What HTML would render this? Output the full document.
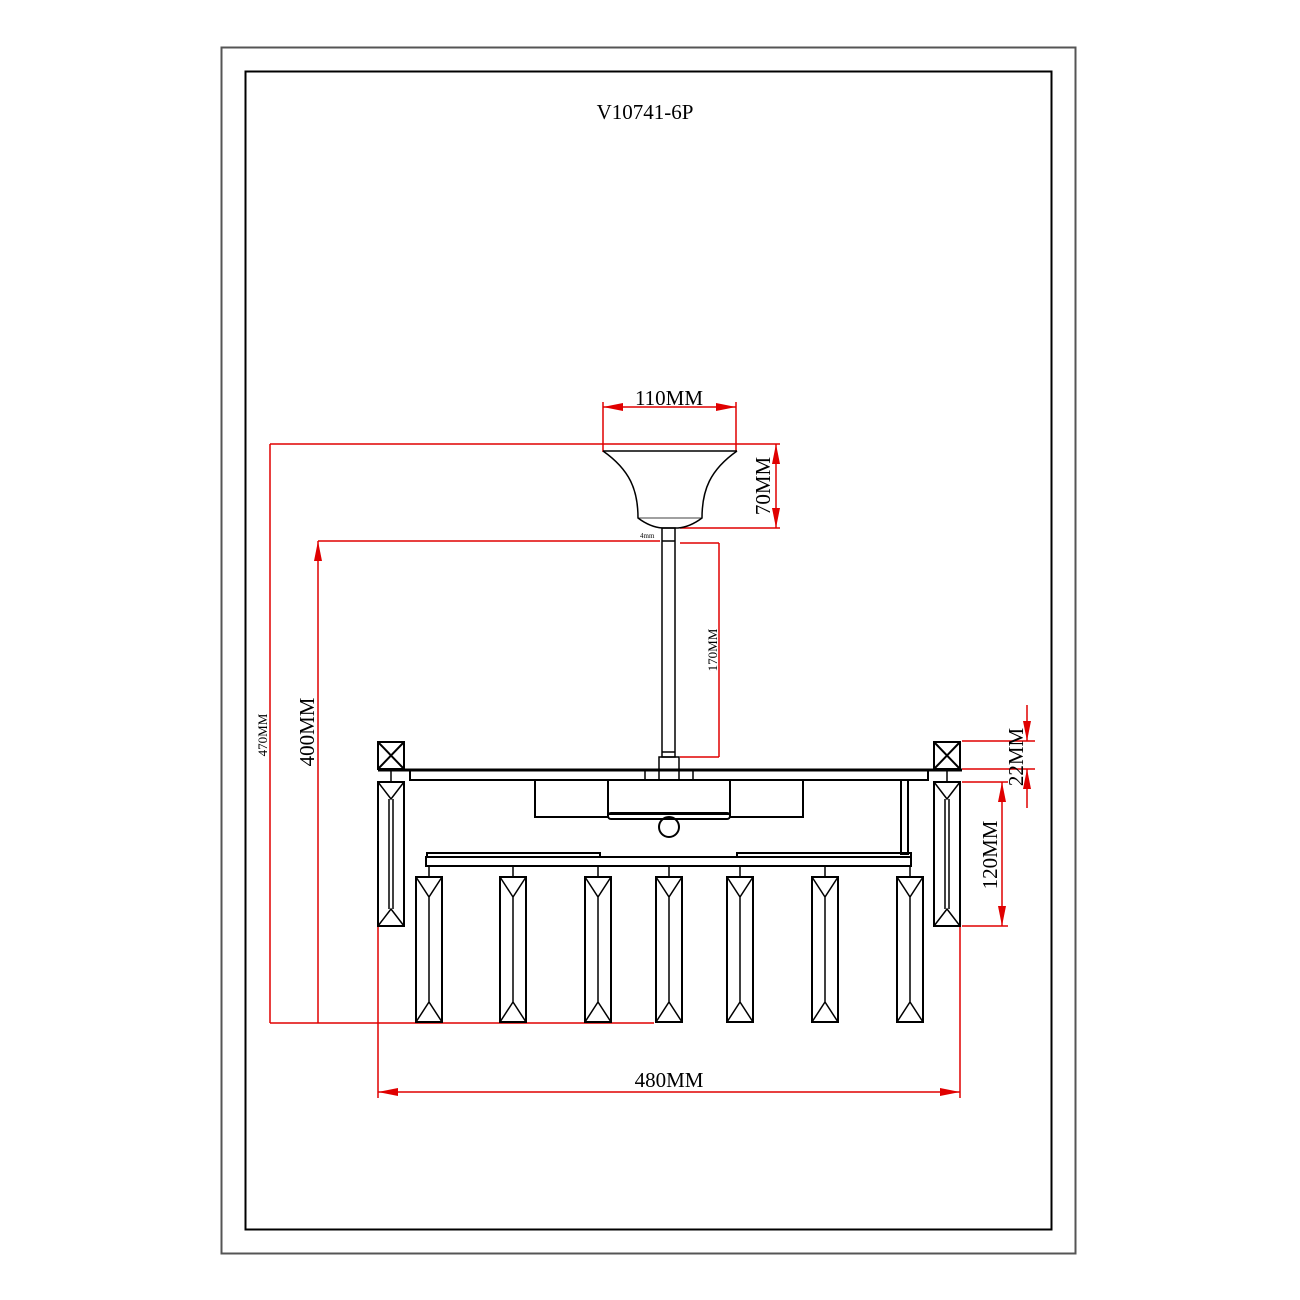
<!DOCTYPE html>
<html><head><meta charset="utf-8"><style>html,body{margin:0;padding:0;background:#fff}svg{display:block}text{font-family:"Liberation Serif",serif}</style></head>
<body>
<svg width="1300" height="1300" viewBox="0 0 1300 1300" xmlns="http://www.w3.org/2000/svg">
<defs>
<marker id="a" viewBox="0 0 20 8" refX="20" refY="4" markerWidth="20" markerHeight="8" markerUnits="userSpaceOnUse" orient="auto"><path d="M0,0 L20,4 L0,8 Z" fill="#e00000"/></marker>
<g id="cr">
<rect x="0" y="0" width="26" height="145" fill="none" stroke="#000" stroke-width="2"/>
<path d="M0,0 L13,20 L26,0 M13,20 L13,125 M0,145 L13,125 L26,145" fill="none" stroke="#000" stroke-width="1.5"/>
</g>
</defs>
<rect x="221.5" y="47.5" width="854" height="1206" fill="none" stroke="#555" stroke-width="2"/>
<rect x="245.5" y="71.5" width="806" height="1158" fill="none" stroke="#000" stroke-width="2"/>
<text x="645" y="119" font-size="21" text-anchor="middle">V10741-6P</text>

<!-- red dims -->
<g stroke="#e00000" stroke-width="1.5" fill="none">
<line x1="603" y1="402" x2="603" y2="452"/><line x1="736" y1="402" x2="736" y2="452"/>
<line x1="625" y1="407" x2="603" y2="407" marker-end="url(#a)"/><line x1="700" y1="407" x2="736" y2="407" marker-end="url(#a)"/><line x1="625" y1="407" x2="700" y2="407"/>
<line x1="270" y1="444" x2="780" y2="444"/><line x1="680" y1="528" x2="780" y2="528"/>
<line x1="776" y1="486" x2="776" y2="444" marker-end="url(#a)"/><line x1="776" y1="486" x2="776" y2="528" marker-end="url(#a)"/>
<line x1="270" y1="444" x2="270" y2="1023"/><line x1="270" y1="1023" x2="654" y2="1023"/>
<line x1="318" y1="541" x2="660" y2="541"/>
<line x1="318" y1="1023" x2="318" y2="541" marker-end="url(#a)"/>
<line x1="680" y1="543" x2="719" y2="543"/><line x1="680" y1="757" x2="719" y2="757"/><line x1="719" y1="543" x2="719" y2="757"/>
<line x1="962" y1="741" x2="1035" y2="741"/><line x1="962" y1="769" x2="1035" y2="769"/>
<line x1="1027" y1="705" x2="1027" y2="741" marker-end="url(#a)"/><line x1="1027" y1="808" x2="1027" y2="769" marker-end="url(#a)"/>
<line x1="962" y1="782" x2="1008" y2="782"/><line x1="962" y1="926" x2="1008" y2="926"/>
<line x1="1002" y1="854" x2="1002" y2="782" marker-end="url(#a)"/><line x1="1002" y1="854" x2="1002" y2="926" marker-end="url(#a)"/>
<line x1="378" y1="782" x2="378" y2="1098"/><line x1="960" y1="782" x2="960" y2="1098"/>
<line x1="669" y1="1092" x2="378" y2="1092" marker-end="url(#a)"/><line x1="669" y1="1092" x2="960" y2="1092" marker-end="url(#a)"/>
</g>
<g font-size="21" fill="#000">
<text x="669" y="405" text-anchor="middle">110MM</text>
<text x="669" y="1087" text-anchor="middle">480MM</text>
<text transform="translate(770,486) rotate(-90)" text-anchor="middle">70MM</text>
<text transform="translate(314,732) rotate(-90)" text-anchor="middle">400MM</text>
<text transform="translate(1023,757) rotate(-90)" text-anchor="middle">22MM</text>
<text transform="translate(997,855) rotate(-90)" text-anchor="middle">120MM</text>
<text transform="translate(267,735) rotate(-90)" text-anchor="middle" font-size="13">470MM</text>
<text transform="translate(717,650) rotate(-90)" text-anchor="middle" font-size="13">170MM</text>
<text x="640" y="538" font-size="7">4mm</text>
</g>

<!-- canopy -->
<g stroke="#000" stroke-width="1.5" fill="none">
<line x1="603" y1="451" x2="737" y2="451"/>
<path d="M603,451 C630,470 638,490 638,518 Q650,527 662,528 L678,528 Q690,527 702,518 C702,490 710,470 737,451"/>
<line x1="638" y1="518" x2="702" y2="518" stroke-width="0.8"/>
<rect x="662" y="528" width="13" height="229"/>
<line x1="662" y1="541" x2="675" y2="541"/>
<line x1="662" y1="752" x2="675" y2="752"/>
<rect x="659" y="757" width="20" height="23"/>
<line x1="645" y1="770" x2="645" y2="780"/><line x1="693" y1="770" x2="693" y2="780"/>
</g>

<!-- main frame -->
<g stroke="#000" fill="none" stroke-width="2">
<line x1="378" y1="770" x2="962" y2="770" stroke-width="3"/>
<rect x="410" y="770" width="518" height="10"/>
<rect x="378" y="742" width="26" height="27"/><path d="M378,742 L404,769 M404,742 L378,769"/>
<rect x="934" y="742" width="26" height="27"/><path d="M934,742 L960,769 M960,742 L934,769"/>
<rect x="535" y="780" width="73" height="37"/>
<rect x="730" y="780" width="73" height="37"/>
<rect x="608" y="780" width="122" height="34"/>
<rect x="608" y="813" width="122" height="6" rx="3"/>
<circle cx="669" cy="827" r="10"/>
<rect x="901" y="780" width="7" height="74"/>
<rect x="427" y="853" width="173" height="4"/>
<rect x="737" y="853" width="174" height="4"/>
<rect x="426" y="857" width="485" height="9"/>
</g>
<!-- side crystals -->
<g transform="translate(378,782)"><rect width="26" height="144" fill="none" stroke="#000" stroke-width="2"/><path d="M0,0 L13,17 L26,0 M11,17 L11,127 M15,17 L15,127 M0,144 L13,127 L26,144" fill="none" stroke="#000" stroke-width="1.5"/></g>
<g transform="translate(934,782)"><rect width="26" height="144" fill="none" stroke="#000" stroke-width="2"/><path d="M0,0 L13,17 L26,0 M11,17 L11,127 M15,17 L15,127 M0,144 L13,127 L26,144" fill="none" stroke="#000" stroke-width="1.5"/></g>
<line x1="391" y1="769" x2="391" y2="782" stroke="#000" stroke-width="1.5"/>
<line x1="947" y1="769" x2="947" y2="782" stroke="#000" stroke-width="1.5"/>
<!-- crystals -->
<g stroke="#000" stroke-width="1.5">
<line x1="429" y1="866" x2="429" y2="878"/><line x1="513" y1="866" x2="513" y2="878"/><line x1="598" y1="866" x2="598" y2="878"/><line x1="669" y1="866" x2="669" y2="878"/><line x1="740" y1="866" x2="740" y2="878"/><line x1="825" y1="866" x2="825" y2="878"/><line x1="910" y1="866" x2="910" y2="878"/>
</g>
<use href="#cr" x="416" y="877"/><use href="#cr" x="500" y="877"/><use href="#cr" x="585" y="877"/><use href="#cr" x="656" y="877"/><use href="#cr" x="727" y="877"/><use href="#cr" x="812" y="877"/><use href="#cr" x="897" y="877"/>
</svg>
</body></html>
